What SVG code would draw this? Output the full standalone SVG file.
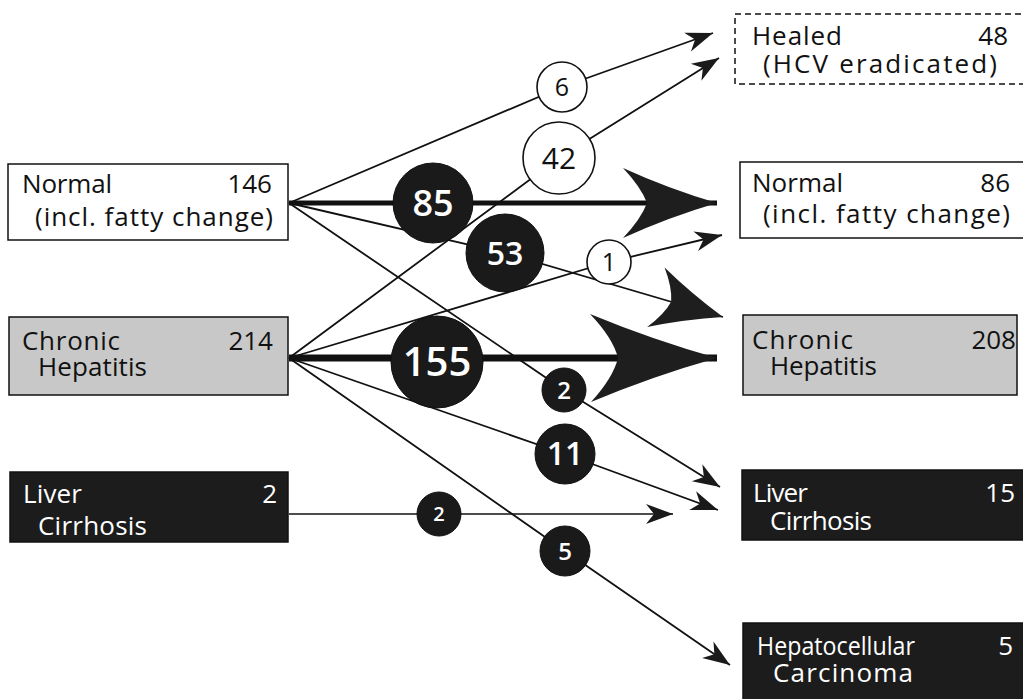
<svg xmlns="http://www.w3.org/2000/svg" width="1023" height="699" viewBox="0 0 1023 699">
<style>
.t{font-family:"Open Sans","Liberation Sans",sans-serif;font-size:26px;fill:#111}
.w{fill:#fff}
.n{font-family:"Open Sans","Liberation Sans",sans-serif;text-anchor:middle;fill:#111}
.nw{font-family:"Open Sans","Liberation Sans",sans-serif;text-anchor:middle;fill:#fff;font-weight:600}
.box{stroke:#111;stroke-width:1.5}
.ln{fill:none;stroke:#111;stroke-width:1.8}
.cw{fill:#fff;stroke:#111;stroke-width:1.6}
.cd{fill:#1a1a1a;stroke:#111;stroke-width:1}
</style>
<defs>
<marker id="sm" markerUnits="userSpaceOnUse" markerWidth="1" markerHeight="1" refX="0" refY="0" orient="auto" overflow="visible">
<path d="M0,0 L-27,-10 L-19,0 L-27,10 Z" fill="#1a1a1a"/>
</marker>
<marker id="b85" markerUnits="userSpaceOnUse" markerWidth="1" markerHeight="1" refX="0" refY="0" orient="auto" overflow="visible">
<path d="M0,0 Q-48,-14 -94,-35 Q-76,-16 -70,0 Q-76,16 -94,35 Q-48,14 0,0 Z" fill="#1e1e1e"/>
</marker>
<marker id="b53" markerUnits="userSpaceOnUse" markerWidth="1" markerHeight="1" refX="0" refY="0" orient="auto" overflow="visible">
<path d="M0,0 Q-36,-13 -70,-31 Q-57,-14 -54,0 Q-57,14 -70,31 Q-36,13 0,0 Z" fill="#1e1e1e"/>
</marker>
<marker id="b155" markerUnits="userSpaceOnUse" markerWidth="1" markerHeight="1" refX="0" refY="0" orient="auto" overflow="visible">
<path d="M0,0 Q-64,-18 -127,-44 Q-104,-20 -99,0 Q-104,20 -126,44 Q-64,18 0,0 Z" fill="#1e1e1e"/>
</marker>
</defs>

<g id="connectors">
<path class="ln" d="M289,203 L562,87 L713,33" marker-end="url(#sm)"/>
<path class="ln" d="M289,203 L717,203" style="stroke-width:5" marker-end="url(#b85)"/>
<path class="ln" d="M289,203 L505,253 L723,317" marker-end="url(#b53)"/>
<path class="ln" d="M289,203 L564,390 L720,487" marker-end="url(#sm)"/>
<path class="ln" d="M289,358 L559,158 L719,58" marker-end="url(#sm)"/>
<path class="ln" d="M289,358 L609,262 L722,235" marker-end="url(#sm)"/>
<path class="ln" d="M289,358 L717,358" style="stroke-width:7" marker-end="url(#b155)"/>
<path class="ln" d="M289,358 L565,454 L718,510" marker-end="url(#sm)"/>
<path class="ln" d="M289,358 L565,551 L730,665" marker-end="url(#sm)"/>
<path class="ln" d="M289,514 L673,514" style="stroke-width:1.5" marker-end="url(#sm)"/>
<circle class="cw" cx="562" cy="87" r="25"/><text class="n" x="562" y="96" font-size="25">6</text>
<circle class="cw" cx="559" cy="158" r="36"/><text class="n" x="559" y="169" font-size="30">42</text>
<circle class="cw" cx="609" cy="262" r="22"/><text class="n" x="609" y="271" font-size="25">1</text>
<circle class="cd" cx="433" cy="203" r="40"/><text class="nw" x="433" y="216" font-size="36">85</text>
<circle class="cd" cx="505" cy="253" r="39"/><text class="nw" x="505" y="265" font-size="32">53</text>
<circle class="cd" cx="437" cy="362" r="46"/><text class="nw" x="437" y="376" font-size="40">155</text>
<circle class="cd" cx="564" cy="390" r="22"/><text class="nw" x="564" y="399" font-size="24">2</text>
<circle class="cd" cx="565" cy="454" r="30"/><text class="nw" x="565" y="465" font-size="32">11</text>
<circle class="cd" cx="439" cy="514" r="22"/><text class="nw" x="439" y="521" font-size="20">2</text>
<circle class="cd" cx="565" cy="551" r="25"/><text class="nw" x="565" y="560" font-size="24">5</text>
</g>

<g id="src-normal">
<rect class="box" x="8" y="164" width="280" height="76" fill="#fff"/>
<text class="t" x="22" y="193" textLength="90" lengthAdjust="spacing">Normal</text>
<text class="t" x="272" y="193" text-anchor="end">146</text>
<text class="t" x="35" y="226" textLength="238" lengthAdjust="spacing">(incl. fatty change)</text>
</g>
<g id="src-chronic">
<rect class="box" x="9" y="317" width="279" height="78" fill="#c8c8c8"/>
<text class="t" x="22" y="350" textLength="98" lengthAdjust="spacing">Chronic</text>
<text class="t" x="273" y="350" text-anchor="end">214</text>
<text class="t" x="38" y="376" textLength="109" lengthAdjust="spacing">Hepatitis</text>
</g>
<g id="src-cirrhosis">
<rect class="box" x="10" y="472" width="278" height="70" fill="#1c1c1c"/>
<text class="t w" x="23" y="503" textLength="59" lengthAdjust="spacing">Liver</text>
<text class="t w" x="277" y="503" text-anchor="end">2</text>
<text class="t w" x="38" y="535" textLength="109" lengthAdjust="spacing">Cirrhosis</text>
</g>

<g id="dst-healed">
<rect x="735" y="14" width="300" height="70" fill="#fff" stroke="#111" stroke-width="1.5" stroke-dasharray="6 4"/>
<text class="t" x="752" y="45" textLength="90" lengthAdjust="spacing">Healed</text>
<text class="t" x="1008" y="45" text-anchor="end">48</text>
<text class="t" x="763" y="73" textLength="234" lengthAdjust="spacing">(HCV eradicated)</text>
</g>
<g id="dst-normal">
<rect class="box" x="740" y="162" width="300" height="76" fill="#fff"/>
<text class="t" x="752" y="192" textLength="91" lengthAdjust="spacing">Normal</text>
<text class="t" x="1010" y="192" text-anchor="end">86</text>
<text class="t" x="763" y="223" textLength="247" lengthAdjust="spacing">(incl. fatty change)</text>
</g>
<g id="dst-chronic">
<rect class="box" x="743" y="315" width="274" height="80" fill="#c8c8c8"/>
<text class="t" x="752" y="349" textLength="101" lengthAdjust="spacing">Chronic</text>
<text class="t" x="1016" y="349" text-anchor="end">208</text>
<text class="t" x="770" y="375" textLength="107" lengthAdjust="spacing">Hepatitis</text>
</g>
<g id="dst-cirrhosis">
<rect class="box" x="742" y="470" width="290" height="70" fill="#1c1c1c"/>
<text class="t w" x="753" y="502" textLength="55" lengthAdjust="spacing">Liver</text>
<text class="t w" x="1015" y="502" text-anchor="end">15</text>
<text class="t w" x="770" y="530" textLength="102" lengthAdjust="spacing">Cirrhosis</text>
</g>
<g id="dst-hcc">
<rect class="box" x="743" y="623" width="290" height="90" fill="#1c1c1c"/>
<text class="t w" x="757" y="655" textLength="158" lengthAdjust="spacingAndGlyphs">Hepatocellular</text>
<text class="t w" x="1013" y="655" text-anchor="end">5</text>
<text class="t w" x="773" y="682" textLength="140" lengthAdjust="spacing">Carcinoma</text>
</g>
</svg>
